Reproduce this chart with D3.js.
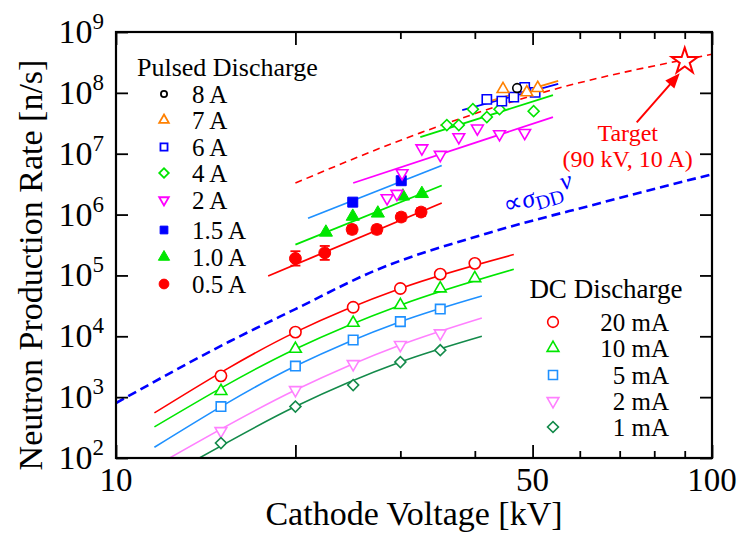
<!DOCTYPE html>
<html>
<head>
<meta charset="utf-8">
<script src="https://cdn.jsdelivr.net/npm/d3@7"></script>
<style>
  body { margin: 0; background: #fff; }
  text { font-family: "Liberation Serif", "Times New Roman", serif; }
</style>
</head>
<body>
<script>
// ---- data ----
// DC discharge (kV, n/s)
var dcVolts = [15, 20, 25, 30, 35, 40];
var dc20mA = [2240, 11700, 30000, 61000, 105000, 158000];
var dc10mA = [1260, 6200, 16600, 32500, 61000, 90000];
var dc5mA  = [700, 3240, 8700, 17400, 28000];
var dc2mA  = [278, 1310, 3500, 7200, 11200];
var dc1mA  = [176, 700, 1580, 3770, 5900];

// DC fit curves [kV, n/s]
var fit20mA = [[11.6, 550], [20, 11700], [30, 61000], [46.5, 220000]];
var fit10mA = [[11.6, 325], [20, 6200], [30, 32500], [46.5, 126000]];
var fit5mA  = [[11.6, 150], [20, 3240], [30, 17400], [41.1, 46000]];
var fit2mA  = [[12.3, 100], [20, 1310], [30, 7200], [41.1, 20000]];
var fit1mA  = [[13.8, 100], [20, 700], [30, 3770], [41.1, 10000]];

// pulsed discharge [kV, n/s]
var p8A  = [[47.1, 1.2e8]];
var p7A  = [[44.6, 1.15e8], [48.9, 1.02e8], [51.0, 1.2e8]];
var p6A  = [[41.9, 7.8e7], [44.4, 7.3e7], [46.5, 8.5e7], [48.5, 1.23e8], [50.5, 1.02e8]];
var p4A  = [[35.9, 2.95e7], [37.6, 2.95e7], [39.7, 5.4e7], [41.9, 4.0e7], [44.0, 5.4e7], [50.2, 5.0e7]];
var p2A  = [[28.5, 1.86e6], [29.6, 2.2e6], [30.2, 4.8e6], [32.6, 1.23e7], [35.0, 9.6e6],
            [37.6, 1.87e7], [40.4, 2.6e7], [44.0, 2.1e7], [48.5, 2.2e7]];
var p15A = [[24.96, 1.6e6], [30.1, 3.6e6]];
var p10A = [[22.5, 5.1e5], [24.96, 9.3e5], [27.5, 1.05e6], [30.3, 2.0e6], [32.6, 2.2e6]];
var p05A = [[20.0, 1.9e5], [22.4, 2.35e5], [24.9, 5.7e5], [27.4, 5.7e5], [30.1, 9.1e5], [32.5, 1.1e6]];
var p05AErr = [[1.45e5, 2.5e5], [1.8e5, 3.05e5], [4.9e5, 6.6e5], [4.9e5, 6.6e5], [7.9e5, 1.05e6], [9.5e5, 1.27e6]];

// pulsed fit lines
var fit7A  = [[42.0, 7.1e7], [55.2, 1.58e8]];
var fit6A  = [[38.1, 5.2e7], [55.2, 1.4e8]];
var fit4A  = [[32.4, 1.87e7], [54.1, 9.2e7]];
var fit2A  = [[25.0, 3.3e6], [54.1, 4.0e7]];
var fit15A = [[21.0, 8.7e5], [35.2, 6.4e6]];
var fit10A = [[20.0, 3.2e5], [35.2, 3.0e6]];
var fit05A = [[18.0, 9.8e4], [35.2, 1.55e6]];

// extrapolation to target, and sigma_DD*v scaling
var targetLine = [[20, 3.3e6], [32.4, 2.2e7], [51.4, 9.8e7], [100, 4.3e8]];
var ddLine = [[10, 800], [15.5, 8200], [20, 2.8e4], [27.2, 1.2e5], [41.9, 4.9e5], [65, 1.55e6], [100, 4.6e6]];
var target = [90, 3.3e8];

// ticks
var yTickExps = [2, 3, 4, 5, 6, 7, 8, 9];
var xMajorTicks = [10, 20, 50, 100];
var xMinorTicks = [30, 40, 60, 70, 80, 90];
var xTickLabels = [10, 50, 100];

// ---- layout ----
var margin = {top: 32, right: 30, bottom: 78, left: 116},
    width = 742 - margin.left - margin.right,
    height = 536 - margin.top - margin.bottom;

var x = d3.scaleLog().domain([10, 100]).range([0, width]);
var y = d3.scaleLog().domain([1e2, 1e9]).range([height, 0]);

var svg = d3.select("body").append("svg")
    .attr("width", 742).attr("height", 536)
  .append("g")
    .attr("transform", "translate(" + margin.left + "," + margin.top + ")");

svg.append("clipPath").attr("id", "clip")
  .append("rect").attr("width", width).attr("height", height);

var plot = svg.append("g").attr("clip-path", "url(#clip)");

var line = d3.line()
    .x(function(d) { return x(d[0]); })
    .y(function(d) { return y(d[1]); })
    .curve(d3.curveMonotoneX);

var colors = {
  red: "#ff0000", green: "#00e600", dblue: "#1e90ff", pink: "#ff80ff",
  dgreen: "#138a4a", orange: "#ff8000", blue: "#0000ff", magenta: "#ff00ff"
};

var symbolTypes = {circle: d3.symbolCircle, tri: d3.symbolTriangle, dtri: d3.symbolTriangle,
                   square: d3.symbolSquare, diamond: d3.symbolSquare};
function symbolRot(shape) { return shape === "dtri" ? 180 : (shape === "diamond" ? 45 : 0); }

function drawPoints(data, shape, size, color, filled) {
  plot.selectAll(null).data(data).enter().append("path")
    .attr("d", d3.symbol().type(symbolTypes[shape]).size(size))
    .attr("transform", function(d) {
      return "translate(" + x(d[0]) + "," + y(d[1]) + ") rotate(" + symbolRot(shape) + ")";
    })
    .attr("fill", filled ? color : "#fff")
    .attr("stroke", color)
    .attr("stroke-width", filled ? 1 : 1.6);
}

function drawFit(data, color, width, dash) {
  plot.append("path").datum(data)
    .attr("d", line)
    .attr("fill", "none")
    .attr("stroke", color)
    .attr("stroke-width", width)
    .attr("stroke-dasharray", dash || null);
}

function pairs(vals) { return vals.map(function(v, i) { return [dcVolts[i], v]; }); }

// dashed guide lines
drawFit(ddLine, colors.blue, 2.6, "9,5");
drawFit(targetLine, colors.red, 1.6, "7,5");

// DC fits
drawFit(fit20mA, colors.red, 1.6);
drawFit(fit10mA, colors.green, 1.6);
drawFit(fit5mA, colors.dblue, 1.6);
drawFit(fit2mA, colors.pink, 1.6);
drawFit(fit1mA, colors.dgreen, 1.6);

// pulsed fits
drawFit(fit05A, colors.red, 1.8);
drawFit(fit10A, colors.green, 1.8);
drawFit(fit15A, colors.dblue, 1.8);
drawFit(fit2A, colors.magenta, 1.8);
drawFit(fit4A, colors.green, 1.8);
drawFit(fit6A, colors.blue, 1.8);
drawFit(fit7A, colors.orange, 1.8);

// DC points
drawPoints(pairs(dc20mA), "circle", 100, colors.red, false);
drawPoints(pairs(dc10mA), "tri", 60, colors.green, false);
drawPoints(pairs(dc5mA), "square", 90, colors.dblue, false);
drawPoints(pairs(dc2mA), "dtri", 60, colors.pink, false);
drawPoints(pairs(dc1mA), "diamond", 60, colors.dgreen, false);

// 0.5 A error bars
var eb = plot.selectAll(null).data(p05A).enter().append("g")
    .attr("stroke", colors.red).attr("stroke-width", 1.8);
eb.append("line")
    .attr("x1", function(d) { return x(d[0]); }).attr("x2", function(d) { return x(d[0]); })
    .attr("y1", function(d, i) { return y(p05AErr[i][0]); })
    .attr("y2", function(d, i) { return y(p05AErr[i][1]); });
[0, 1].forEach(function(k) {
  eb.append("line")
    .attr("x1", function(d) { return x(d[0]) - 5; }).attr("x2", function(d) { return x(d[0]) + 5; })
    .attr("y1", function(d, i) { return y(p05AErr[i][k]); })
    .attr("y2", function(d, i) { return y(p05AErr[i][k]); });
});

// pulsed points
drawPoints(p05A, "circle", 110, colors.red, true);
drawPoints(p10A, "tri", 75, colors.green, true);
drawPoints(p15A, "square", 100, colors.blue, true);
drawPoints(p2A, "dtri", 60, colors.magenta, false);
drawPoints(p4A, "diamond", 60, colors.green, false);
drawPoints(p6A, "square", 85, colors.blue, false);
drawPoints(p7A, "tri", 60, colors.orange, false);
drawPoints(p8A, "circle", 60, "#000", false);

// target star
svg.append("path")
    .attr("d", d3.symbol().type(d3.symbolStar).size(210))
    .attr("transform", "translate(" + x(target[0]) + "," + y(target[1]) + ")")
    .attr("fill", "#fff").attr("stroke", colors.red).attr("stroke-width", 2);

// arrow to target
var tipX = x(target[0]) - 5, tipY = y(target[1]) + 12;
var tailX = tipX - 43, tailY = tipY + 49;
var ang = Math.atan2(tipY - tailY, tipX - tailX);
svg.append("line")
    .attr("x1", tailX).attr("y1", tailY)
    .attr("x2", tipX - 10 * Math.cos(ang)).attr("y2", tipY - 10 * Math.sin(ang))
    .attr("stroke", colors.red).attr("stroke-width", 2);
svg.append("path")
    .attr("d", "M0,0 L-15,-6 L-15,6 Z")
    .attr("transform", "translate(" + tipX + "," + tipY + ") rotate(" + (ang * 180 / Math.PI) + ")")
    .attr("fill", colors.red);

svg.append("text").attr("x", tailX - 9).attr("y", tailY + 19)
    .attr("text-anchor", "middle").attr("fill", colors.red).style("font-size", "24px")
    .text("Target");
svg.append("text").attr("x", tailX - 9).attr("y", tailY + 45)
    .attr("text-anchor", "middle").attr("fill", colors.red).style("font-size", "24px")
    .text("(90 kV, 10 A)");

// sigma_DD v label
var sig = svg.append("text")
    .attr("transform", "translate(390,182) rotate(-16)")
    .attr("fill", colors.blue).style("font-size", "26px");
sig.append("tspan").text("\u221D");
sig.append("tspan").style("font-style", "italic").text("\u03C3");
sig.append("tspan").attr("dy", 5).style("font-size", "20px").text("DD");
sig.append("tspan").attr("dy", -12).style("font-style", "italic").text("\u03BD");

// ---- axes (ticks inward) ----
function tickAxis(axis, tr) {
  var g = svg.append("g").attr("transform", tr || null).call(axis);
  g.select(".domain").remove();
  g.selectAll("line").attr("stroke-width", 1.8);
  g.selectAll("text").remove();
}
tickAxis(d3.axisBottom(x).tickValues(xMajorTicks).tickSize(-13), "translate(0," + height + ")");
tickAxis(d3.axisBottom(x).tickValues(xMinorTicks).tickSize(-7), "translate(0," + height + ")");
tickAxis(d3.axisTop(x).tickValues(xMajorTicks).tickSize(-13));
tickAxis(d3.axisTop(x).tickValues(xMinorTicks).tickSize(-7));
var yTicks = yTickExps.map(function(e) { return Math.pow(10, e); });
tickAxis(d3.axisLeft(y).tickValues(yTicks).tickSize(-12));
tickAxis(d3.axisRight(y).tickValues(yTicks).tickSize(-12), "translate(" + width + ",0)");

svg.append("rect").attr("width", width).attr("height", height)
    .attr("fill", "none").attr("stroke", "#000").attr("stroke-width", 2.2);

// x tick labels
svg.selectAll(null).data(xTickLabels).enter().append("text")
    .attr("x", function(d) { return x(d); })
    .attr("y", height + 33)
    .attr("text-anchor", "middle")
    .style("font-size", "33px")
    .text(function(d) { return d; });

// y tick labels 10^n
var yl = svg.selectAll(null).data(yTickExps).enter().append("text")
    .attr("x", -12)
    .attr("y", function(d) { return y(Math.pow(10, d)) + 11; })
    .attr("text-anchor", "end")
    .style("font-size", "34px");
yl.append("tspan").text("10");
yl.append("tspan").attr("dy", -14).style("font-size", "23px").text(function(d) { return d; });

// axis titles
svg.append("text")
    .attr("x", 298).attr("y", height + 67)
    .attr("text-anchor", "middle").style("font-size", "34px")
    .text("Cathode Voltage [kV]");
svg.append("text")
    .attr("transform", "rotate(-90)")
    .attr("x", -233).attr("y", -74)
    .attr("text-anchor", "middle").style("font-size", "34px")
    .text("Neutron Production Rate [n/s]");

// ---- legends ----
var pulsedLegend = [
  {label: "8 A", shape: "circle", color: "#000", filled: false, size: 30},
  {label: "7 A", shape: "tri", color: colors.orange, filled: false, size: 40},
  {label: "6 A", shape: "square", color: colors.blue, filled: false, size: 50},
  {label: "4 A", shape: "diamond", color: colors.green, filled: false, size: 45},
  {label: "2 A", shape: "dtri", color: colors.magenta, filled: false, size: 40},
  {label: "1.5 A", shape: "square", color: colors.blue, filled: true, size: 60},
  {label: "1.0 A", shape: "tri", color: colors.green, filled: true, size: 55},
  {label: "0.5 A", shape: "circle", color: colors.red, filled: true, size: 75}
];
var pulsedRows = [62, 88, 115, 141, 168, 198, 225, 252];

svg.append("text").attr("x", 21).attr("y", 44)
    .style("font-size", "26px").text("Pulsed Discharge");

var pl = svg.selectAll(null).data(pulsedLegend).enter().append("g")
    .attr("transform", function(d, i) { return "translate(48," + pulsedRows[i] + ")"; });
pl.append("path")
    .attr("d", function(d) { return d3.symbol().type(symbolTypes[d.shape]).size(d.size)(); })
    .attr("transform", function(d) { return "rotate(" + symbolRot(d.shape) + ")"; })
    .attr("fill", function(d) { return d.filled ? d.color : "#fff"; })
    .attr("stroke", function(d) { return d.color; })
    .attr("stroke-width", function(d) { return d.filled ? 1 : 1.8; });
pl.append("text").attr("x", 28).attr("y", 9)
    .style("font-size", "25px").text(function(d) { return d.label; });

var dcLegend = [
  {label: "20 mA", shape: "circle", color: colors.red, size: 90},
  {label: "10 mA", shape: "tri", color: colors.green, size: 60},
  {label: "5 mA", shape: "square", color: colors.dblue, size: 80},
  {label: "2 mA", shape: "dtri", color: colors.pink, size: 60},
  {label: "1 mA", shape: "diamond", color: colors.dgreen, size: 60}
];
var dcRows = [290, 316, 343, 369, 395];

svg.append("text").attr("x", 490).attr("y", 266)
    .attr("text-anchor", "middle").style("font-size", "27px").text("DC Discharge");

var dl = svg.selectAll(null).data(dcLegend).enter().append("g")
    .attr("transform", function(d, i) { return "translate(437," + dcRows[i] + ")"; });
dl.append("path")
    .attr("d", function(d) { return d3.symbol().type(symbolTypes[d.shape]).size(d.size)(); })
    .attr("transform", function(d) { return "rotate(" + symbolRot(d.shape) + ")"; })
    .attr("fill", "#fff")
    .attr("stroke", function(d) { return d.color; })
    .attr("stroke-width", 1.6);
dl.append("text").attr("x", 116).attr("y", 9)
    .attr("text-anchor", "end")
    .style("font-size", "25px").text(function(d) { return d.label; });
</script>
</body>
</html>
